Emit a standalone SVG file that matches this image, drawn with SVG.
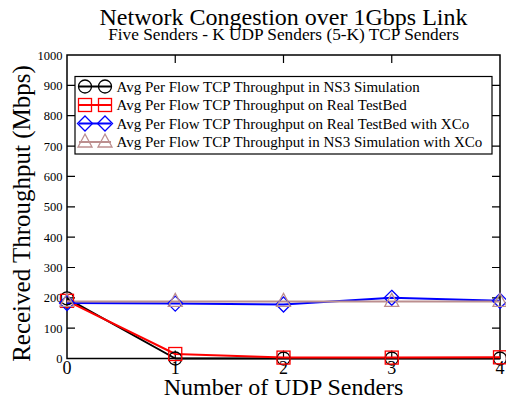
<svg xmlns="http://www.w3.org/2000/svg" width="506" height="401" viewBox="0 0 506 401" font-family="'Liberation Serif', 'Times New Roman', Times, 'DejaVu Serif', serif">
  <style>
    text { font-family: 'Liberation Serif', 'Times New Roman', Times, 'DejaVu Serif', serif; fill: #000; }
    .tick { stroke: #000; stroke-width: 1.2; fill: none; }
    .ylab { font-size: 12.5px; text-anchor: end; }
    .xlab { font-size: 18px; text-anchor: middle; }
    .leg { font-size: 15px; }
    .s-black { stroke: #000; }
    .s-red { stroke: #ff0000; }
    .s-blue { stroke: #0000ff; }
    .s-tan { stroke: #bc8f8f; }
    .line { fill: none; stroke-width: 2; stroke-linejoin: round; }
    .mk { fill: none; stroke-width: 1.3; }
  </style>
  <defs>
    <circle id="m-circle" r="6.5"/>
    <rect id="m-square" x="-6.5" y="-6.5" width="13" height="13"/>
    <path id="m-diamond" d="M0,-7.5 L7.5,0 L0,7.5 L-7.5,0 Z"/>
    <path id="m-triangle" d="M0,-8 L7,5 L-7,5 Z"/>
  </defs>

  <rect width="506" height="401" fill="#fff"/>

  <!-- titles -->
  <g id="title">
    <text x="283.5" y="25" font-size="24" text-anchor="middle">Network Congestion over 1Gbps Link</text>
    <text x="283.5" y="40" font-size="17.3" text-anchor="middle">Five Senders - K UDP Senders (5-K) TCP Senders</text>
  </g>

  <!-- axes frame and ticks -->
  <g id="axes">
    <rect x="67" y="55" width="433" height="303.5" fill="none" stroke="#000" stroke-width="1.5"/>
    <g class="tick">
      <!-- left / right y ticks every 100 -->
      <path d="M67,328.2h8 M67,297.9h8 M67,267.5h8 M67,237.1h8 M67,206.8h8 M67,176.4h8 M67,146.1h8 M67,115.7h8 M67,85.3h8"/>
      <path d="M500,328.2h-8 M500,297.9h-8 M500,267.5h-8 M500,237.1h-8 M500,206.8h-8 M500,176.4h-8 M500,146.1h-8 M500,115.7h-8 M500,85.3h-8"/>
      <!-- top / bottom x ticks -->
      <path d="M175.25,55v8 M283.5,55v8 M391.75,55v8"/>
      <path d="M175.25,358.5v-8 M283.5,358.5v-8 M391.75,358.5v-8"/>
    </g>
    <g class="ylab">
      <text x="62.5" y="363">0</text>
      <text x="62.5" y="332.7">100</text>
      <text x="62.5" y="302.4">200</text>
      <text x="62.5" y="272">300</text>
      <text x="62.5" y="241.6">400</text>
      <text x="62.5" y="211.3">500</text>
      <text x="62.5" y="180.9">600</text>
      <text x="62.5" y="150.6">700</text>
      <text x="62.5" y="120.2">800</text>
      <text x="62.5" y="89.8">900</text>
      <text x="62.5" y="59.5">1000</text>
    </g>
    <g class="xlab">
      <text x="67" y="374">0</text>
      <text x="175.25" y="374">1</text>
      <text x="283.5" y="374">2</text>
      <text x="391.75" y="374">3</text>
      <text x="500" y="374">4</text>
    </g>
    <text x="283.5" y="395" font-size="24" text-anchor="middle">Number of UDP Senders</text>
    <text transform="translate(30,213.5) rotate(-90)" font-size="25" text-anchor="middle">Received Throughput (Mbps)</text>
  </g>

  <!-- data series -->
  <g id="connectors">
    <polyline id="series-ns3" class="line s-black" points="67,298.4 175.25,358.5 283.5,358.5 391.75,358.5 500,358.5"/>
    <polyline id="series-testbed" class="line s-red" points="67,300.8 175.25,354 283.5,357.6 391.75,357.6 500,357.3"/>
    <polyline id="series-testbed-xco" class="line s-blue" points="67,303 175.25,303.6 283.5,304.5 391.75,297.8 500,300.8"/>
    <polyline id="series-ns3-xco" class="line s-tan" points="67,301.4 175.25,301.4 283.5,301.4 391.75,301.4 500,301.4"/>
  </g>

  <g id="markers-ns3" class="mk s-black">
    <use href="#m-circle" x="67" y="298.4"/>
    <use href="#m-circle" x="175.25" y="358.5"/>
    <use href="#m-circle" x="283.5" y="358.5"/>
    <use href="#m-circle" x="391.75" y="358.5"/>
    <use href="#m-circle" x="500" y="358.5"/>
  </g>
  <g id="markers-testbed" class="mk s-red">
    <use href="#m-square" x="67" y="300.8"/>
    <use href="#m-square" x="175.25" y="354"/>
    <use href="#m-square" x="283.5" y="357.6"/>
    <use href="#m-square" x="391.75" y="357.6"/>
    <use href="#m-square" x="500" y="357.3"/>
  </g>
  <g id="markers-testbed-xco" class="mk s-blue">
    <use href="#m-diamond" x="67" y="303"/>
    <use href="#m-diamond" x="175.25" y="303.6"/>
    <use href="#m-diamond" x="283.5" y="304.5"/>
    <use href="#m-diamond" x="391.75" y="297.8"/>
    <use href="#m-diamond" x="500" y="300.8"/>
  </g>
  <g id="markers-ns3-xco" class="mk s-tan">
    <use href="#m-triangle" x="67" y="301.4"/>
    <use href="#m-triangle" x="175.25" y="301.4"/>
    <use href="#m-triangle" x="283.5" y="301.4"/>
    <use href="#m-triangle" x="391.75" y="301.4"/>
    <use href="#m-triangle" x="500" y="301.4"/>
  </g>

  <!-- legend -->
  <g id="legend">
    <rect x="75" y="76.5" width="417" height="77.5" fill="#fff" stroke="#000" stroke-width="1.2"/>
    <g id="legend-ns3">
      <path class="line s-black" d="M79,86.5H111" stroke-width="1.5"/>
      <g class="mk s-black"><use href="#m-circle" x="85" y="86.5"/><use href="#m-circle" x="105" y="86.5"/></g>
      <text class="leg" x="116.5" y="91.5">Avg Per Flow TCP Throughput in NS3 Simulation</text>
    </g>
    <g id="legend-testbed">
      <path class="line s-red" d="M79,105H111" stroke-width="1.5"/>
      <g class="mk s-red"><use href="#m-square" x="85" y="105"/><use href="#m-square" x="105" y="105"/></g>
      <text class="leg" x="116.5" y="110">Avg Per Flow TCP Throughput on Real TestBed</text>
    </g>
    <g id="legend-testbed-xco">
      <path class="line s-blue" d="M79,123.5H111" stroke-width="1.5"/>
      <g class="mk s-blue"><use href="#m-diamond" x="85" y="123.5"/><use href="#m-diamond" x="105" y="123.5"/></g>
      <text class="leg" x="116.5" y="128.5">Avg Per Flow TCP Throughput on Real TestBed with XCo</text>
    </g>
    <g id="legend-ns3-xco">
      <path class="line s-tan" d="M79,142H111" stroke-width="1.5"/>
      <g class="mk s-tan"><use href="#m-triangle" x="85" y="142"/><use href="#m-triangle" x="105" y="142"/></g>
      <text class="leg" x="116.5" y="147">Avg Per Flow TCP Throughput in NS3 Simulation with XCo</text>
    </g>
  </g>
</svg>
